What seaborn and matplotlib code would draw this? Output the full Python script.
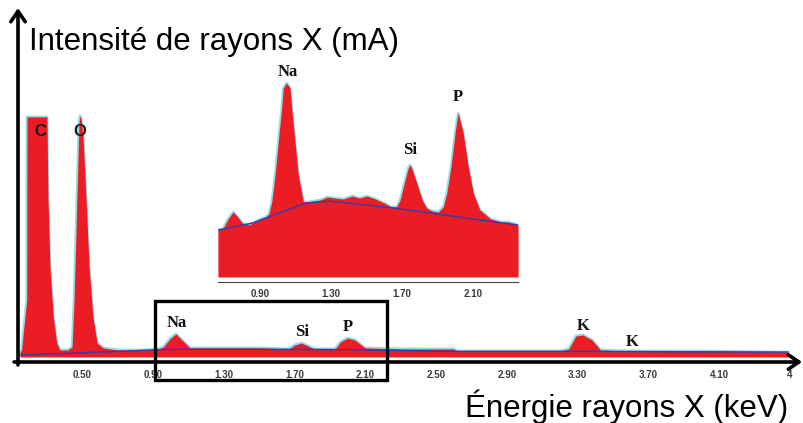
import matplotlib
matplotlib.use("Agg")
import matplotlib.pyplot as plt
from matplotlib.patches import Rectangle, ArrowStyle
import pandas as pd
import seaborn as sns

# ---- EDS spectrum (whole range) ----
energy_main = [0.150, 0.159, 0.168, 0.188, 0.189, 0.302, 0.308, 0.319, 0.338, 0.357,
               0.376, 0.420, 0.444, 0.455, 0.466, 0.476, 0.483, 0.489, 0.495, 0.506,
               0.523, 0.540, 0.562, 0.585, 0.619, 0.700, 0.850, 0.930, 0.960, 1.000,
               1.031, 1.060, 1.110, 1.300, 1.500, 1.670, 1.700, 1.740, 1.780, 1.810,
               1.930, 1.960, 2.000, 2.040, 2.100, 2.300, 2.600, 2.620, 3.200, 3.250,
               3.290, 3.330, 3.380, 3.430, 3.600, 4.000, 4.490]
counts_main = [1.4, 2.0, 6.9, 16.3, 68.6, 68.6, 44.9, 25.7, 11.4, 4.0,
               2.0, 2.0, 2.9, 16.3, 35.4, 54.3, 67.0, 68.9, 68.0, 63.0,
               44.9, 25.7, 11.4, 4.0, 2.6, 2.0, 2.0, 2.3, 2.9, 5.4,
               6.6, 5.1, 2.6, 2.6, 2.6, 2.3, 3.4, 4.0, 3.1, 2.3,
               2.3, 4.3, 5.4, 4.9, 2.6, 2.3, 2.3, 1.7, 1.7, 2.3,
               6.0, 6.3, 4.9, 2.0, 1.7, 1.7, 1.4]
bkg_energy_main = [0.15, 0.40, 0.70, 1.00, 1.50, 2.00, 2.60, 3.30, 4.49]
bkg_main = [0.6, 1.0, 1.6, 2.2, 2.2, 2.1, 1.6, 1.6, 1.4]

# ---- zoom on 0.66 - 2.35 keV ----
energy_zoom = [0.663, 0.690, 0.720, 0.748, 0.775, 0.800, 0.840, 0.870, 0.900, 0.930,
               0.950, 0.966, 0.985, 1.003, 1.022, 1.031, 1.050, 1.069, 1.079, 1.097,
               1.116, 1.144, 1.170, 1.200, 1.238, 1.280, 1.320, 1.369, 1.420, 1.460,
               1.503, 1.550, 1.600, 1.640, 1.670, 1.689, 1.713, 1.735, 1.745, 1.755,
               1.783, 1.814, 1.839, 1.870, 1.905, 1.933, 1.952, 1.976, 1.999, 2.010,
               2.017, 2.025, 2.045, 2.073, 2.102, 2.139, 2.200, 2.260, 2.300, 2.354]
counts_zoom = [23.5, 24.0, 29.0, 32.5, 30.0, 27.0, 26.0, 27.5, 29.0, 30.0,
               31.5, 37.5, 51.0, 67.7, 84.5, 94.5, 97.0, 94.5, 84.5, 67.7,
               51.0, 37.7, 37.5, 38.0, 38.5, 40.0, 39.5, 39.0, 40.5, 39.5,
               40.5, 39.0, 37.0, 35.0, 35.2, 38.5, 47.0, 54.5, 56.0, 54.5,
               47.0, 38.5, 34.5, 33.0, 32.5, 35.2, 41.9, 55.2, 72.0, 79.0,
               81.9, 79.0, 72.0, 55.2, 41.9, 33.5, 29.0, 27.5, 27.5, 26.0]
bkg_energy_zoom = [0.663, 0.860, 1.160, 1.290, 1.650, 1.860, 2.140, 2.354]
bkg_zoom = [23.5, 27.0, 37.0, 38.0, 34.5, 32.0, 28.5, 26.0]

# ---- tick labels ----
ticks_main = [0.50, 0.90, 1.30, 1.70, 2.10, 2.50, 2.90, 3.30, 3.70, 4.10, 4.50]
tick_labels_main = ["0.50", "0.90", "1.30", "1.70", "2.10", "2.50", "2.90",
                    "3.30", "3.70", "4.10", "4"]
ticks_zoom = [0.90, 1.30, 1.70, 2.10]
tick_labels_zoom = ["0.90", "1.30", "1.70", "2.10"]

# ---- element labels (name, energy, height) ----
elements_main = [("Na", 1.037, 9.7), ("Si", 1.743, 7.1), ("P", 2.003, 8.6),
                 ("K", 3.331, 8.9), ("K", 3.607, 4.3)]
elements_light = [("C", 0.263, 64.3), ("O", 0.489, 64.3)]
elements_zoom = [("Na", 1.058, 102.5), ("Si", 1.745, 63.5), ("P", 2.015, 90.0)]

RED = "#ec1c24"
CYAN = "#93dde4"
BLUE = "#3b3aa6"

sns.set_style("white")
plt.rcParams["font.family"] = ["Liberation Sans", "DejaVu Sans"]

W, H = 804, 423
fig = plt.figure(figsize=(W / 100, H / 100), dpi=100)


def fig_box(x0, y0, x1, y1):
    """Axes rectangle from pixel corners (top-left origin)."""
    return [x0 / W, (H - y1) / H, (x1 - x0) / W, (y1 - y0) / H]


tick_font = dict(fontsize=7, color="#3a3a3a", fontweight="bold")

# ---------------- main spectrum ----------------
ax = fig.add_axes(fig_box(18, 10, 800, 362))
main_df = pd.DataFrame({"energie": energy_main, "intensite": counts_main})
sns.lineplot(data=main_df, x="energie", y="intensite", ax=ax, color=CYAN,
             lw=2.0, sort=False, zorder=1)
ax.fill_between(energy_main, 0, counts_main, color=RED, lw=0, zorder=2)
sns.lineplot(x=bkg_energy_main, y=bkg_main, ax=ax, color=BLUE, lw=1.1, zorder=3)
ax.set_xlim(0.1384, 4.5565)
ax.set_ylim(-1.43, 99.14)
ax.set_xlabel("")
ax.set_ylabel("")
ax.set_yticks([])
ax.set_xticks(ticks_main)
ax.set_xticklabels(tick_labels_main, **tick_font)
ax.tick_params(axis="x", length=0, pad=6)
for s in ax.spines.values():
    s.set_visible(False)
ax.patch.set_alpha(0)

serif_bold = dict(family=["Liberation Serif", "DejaVu Serif"], fontweight="bold",
                  fontsize=12, color="#111111", ha="center", va="center")
for name, e, c in elements_main:
    ax.text(e, c, name, zorder=5, **serif_bold)
for name, e, c in elements_light:
    ax.text(e, c, name, zorder=5, family=["Liberation Sans", "DejaVu Sans"],
            fontweight="bold", fontsize=12, color="#1a1a1a", ha="center", va="center")

# axes drawn as arrows
head = ArrowStyle("->", head_length=0.38, head_width=0.26)
arrow_kw = dict(arrowstyle=head, lw=2.6, color="black", shrinkA=0, shrinkB=0,
                mutation_scale=20)
ax.annotate("", xy=(1.0026, 0), xytext=(-0.005, 0), xycoords="axes fraction",
            textcoords="axes fraction", arrowprops=arrow_kw, annotation_clip=False)
ax.annotate("", xy=(0, 1.0057), xytext=(0, -0.0085), xycoords="axes fraction",
            textcoords="axes fraction", arrowprops=arrow_kw, annotation_clip=False)

# frame around the zoomed region
x0, y0, w, h = fig_box(155, 301, 387, 380)
fig.add_artist(Rectangle((x0, y0), w, h, transform=fig.transFigure, fill=False,
                         lw=2.4, edgecolor="black", zorder=6))

# ---------------- zoomed spectrum ----------------
axz = fig.add_axes(fig_box(218, 60, 518, 282))
zoom_df = pd.DataFrame({"energie": energy_zoom, "intensite": counts_zoom})
sns.lineplot(data=zoom_df, x="energie", y="intensite", ax=axz, color=CYAN,
             lw=1.8, sort=False, zorder=1)
axz.fill_between(energy_zoom, 0, counts_zoom, color=RED, lw=0, zorder=2)
sns.lineplot(x=bkg_energy_zoom, y=bkg_zoom, ax=axz, color=BLUE, lw=1.1, zorder=3)
axz.set_xlim(0.6634, 2.3535)
axz.set_ylim(-2.5, 108.5)
axz.set_xlabel("")
axz.set_ylabel("")
axz.set_yticks([])
axz.set_xticks(ticks_zoom)
axz.set_xticklabels(tick_labels_zoom, **tick_font)
axz.tick_params(axis="x", length=4, width=0.8, direction="inout", color="#333333",
                pad=3)
for side in ("top", "left", "right"):
    axz.spines[side].set_visible(False)
axz.spines["bottom"].set_color("#444444")
axz.spines["bottom"].set_linewidth(0.8)
axz.patch.set_alpha(0)
for name, e, c in elements_zoom:
    axz.text(e, c, name, zorder=5, **serif_bold)

# ---------------- axis titles ----------------
fig.text(29 / W, 1 - 50 / H, "Intensité de rayons X (mA)", fontsize=22.5,
         ha="left", va="baseline", color="black")
fig.text(465 / W, 1 - 417 / H, "Énergie rayons X (keV)", fontsize=22.5,
         ha="left", va="baseline", color="black")

fig.savefig("out.png", dpi=100)
